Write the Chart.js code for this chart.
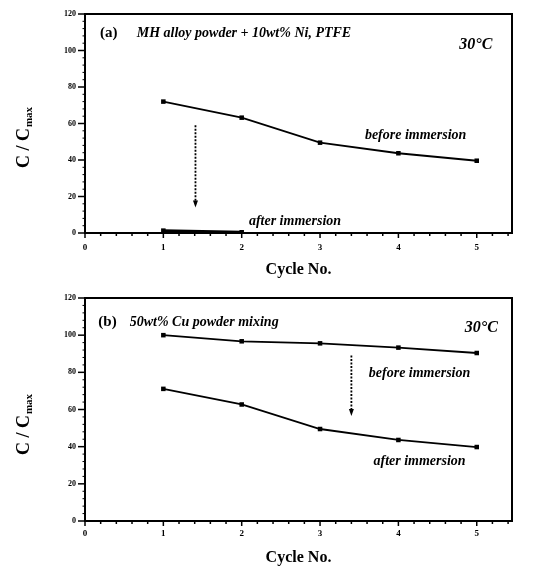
<!DOCTYPE html>
<html><head><meta charset="utf-8">
<script src="https://cdn.jsdelivr.net/npm/chart.js@4"></script>
<style>
html,body{margin:0;padding:0;background:#fff;}
#wrap{position:relative;width:539px;height:567px;}
.c{position:absolute;left:0;}
</style></head><body>
<div id="wrap">
<canvas id="ca" class="c" style="top:0" width="539" height="283"></canvas>
<canvas id="cb" class="c" style="top:283px" width="539" height="284"></canvas>
</div>
<script>
// ---- data ----
const cycles = [1, 2, 3, 4, 5];
const aBefore = [72, 63.2, 49.5, 43.7, 39.6];
const aAfterCycles = [1, 2];
const aAfter = [1.3, 0.4];
const bBefore = [100, 96.7, 95.6, 93.3, 90.4];
const bAfter = [71.1, 62.7, 49.5, 43.6, 39.8];
const xTickValues = [0, 1, 2, 3, 4, 5];
const yTickValues = [0, 20, 40, 60, 80, 100, 120];
const xTitle = 'Cycle No.';

const SERIF = '"Liberation Serif", "DejaVu Serif", serif';

function pts(xs, ys) { return xs.map((x, i) => ({ x: x, y: ys[i] })); }

const deco = {
  id: 'deco',
  afterDraw(chart) {
    const o = chart.options.plugins.deco;
    const ctx = chart.ctx, a = chart.chartArea;
    const xs = chart.scales.x, ys = chart.scales.y;
    ctx.save();
    // frame
    ctx.strokeStyle = '#000';
    ctx.lineWidth = 2;
    ctx.strokeRect(a.left, a.top, a.right - a.left, a.bottom - a.top);
    // minor ticks x
    ctx.lineWidth = 1.5;
    for (let v = 0; v <= 5.41; v += 0.2) {
      const px = xs.getPixelForValue(v);
      const major = Math.abs(v - Math.round(v)) < 1e-6;
      ctx.beginPath();
      ctx.moveTo(px, a.bottom);
      ctx.lineTo(px, a.bottom + (major ? 5 : 3));
      ctx.stroke();
    }
    // minor ticks y
    ctx.lineWidth = 1;
    for (let v = 0; v <= 120; v += 4) {
      const py = ys.getPixelForValue(v);
      const major = v % 20 === 0;
      ctx.lineWidth = major ? 1.5 : 1;
      ctx.beginPath();
      ctx.moveTo(a.left, py);
      ctx.lineTo(a.left - (major ? 7 : 2.5), py);
      ctx.stroke();
    }
    // y title C / Cmax
    ctx.translate(o.yTitleX, o.yTitleY);
    ctx.rotate(-Math.PI / 2);
    ctx.fillStyle = '#000';
    ctx.textBaseline = 'middle';
    const main = 'C / C';
    ctx.font = 'bold 18px ' + SERIF;
    const w1 = ctx.measureText(main).width;
    ctx.font = 'bold 11px ' + SERIF;
    const w2 = ctx.measureText('max').width;
    const start = -(w1 + w2) / 2;
    ctx.font = 'bold 18px ' + SERIF;
    ctx.textAlign = 'left';
    ctx.fillText(main, start, 0);
    ctx.font = 'bold 11px ' + SERIF;
    ctx.fillText('max', start + w1 + 1, 5);
    ctx.setTransform(1, 0, 0, 1, 0, 0);
    // texts
    o.texts.forEach(t => {
      ctx.font = t.font;
      ctx.textAlign = t.align;
      ctx.textBaseline = 'middle';
      ctx.fillStyle = '#000';
      ctx.fillText(t.text, xs.getPixelForValue(t.x), ys.getPixelForValue(t.y));
    });
    // arrow
    const ar = o.arrow;
    const ax = xs.getPixelForValue(ar.x), ay1 = ys.getPixelForValue(ar.y1), ay2 = ys.getPixelForValue(ar.y2);
    ctx.strokeStyle = '#000';
    ctx.fillStyle = '#000';
    ctx.lineWidth = 1.8;
    ctx.setLineDash([2, 1.5]);
    ctx.beginPath();
    ctx.moveTo(ax, ay1);
    ctx.lineTo(ax, ay2 - 6);
    ctx.stroke();
    ctx.setLineDash([]);
    ctx.beginPath();
    ctx.moveTo(ax - 2.5, ay2 - 7);
    ctx.lineTo(ax + 2.5, ay2 - 7);
    ctx.lineTo(ax, ay2);
    ctx.closePath();
    ctx.fill();
    ctx.restore();
  }
};

function makeOptions(xHeight, titlePadBottom, d) {
  return {
    responsive: false,
    animation: false,
    layout: { padding: { left: 0, right: 27, top: d.padTop, bottom: 0 } },
    plugins: { legend: { display: false }, tooltip: { enabled: false }, deco: d },
    scales: {
      x: {
        type: 'linear', min: 0, max: 5.45,
        afterBuildTicks(s) { s.ticks = xTickValues.map(v => ({ value: v })); },
        afterFit(s) { s.height = xHeight; },
        grid: { display: false, drawTicks: false },
        border: { display: false },
        ticks: { padding: d.xTickPad, color: '#000', font: { family: SERIF, size: 9, weight: 'bold' }, maxRotation: 0 },
        title: { display: true, text: xTitle, color: '#000', font: { family: SERIF, size: 16, weight: 'bold' }, padding: { top: 0, bottom: titlePadBottom } }
      },
      y: {
        type: 'linear', min: 0, max: 120,
        afterBuildTicks(s) { s.ticks = yTickValues.map(v => ({ value: v })); },
        afterFit(s) { s.width = 85; },
        grid: { display: false, drawTicks: false },
        border: { display: false },
        ticks: { padding: 9, color: '#000', font: { family: SERIF, size: 8, weight: 'bold' } }
      }
    }
  };
}

const lineStyle = {
  borderColor: '#000', backgroundColor: '#000', borderWidth: 1.8,
  pointStyle: 'rect', pointRadius: 3.2, pointBorderWidth: 0, tension: 0, fill: false
};

const ANN = 'italic bold 14px ' + SERIF;
const SUB = 'italic bold 14px ' + SERIF;

new Chart(document.getElementById('ca'), {
  type: 'line',
  plugins: [deco],
  data: {
    datasets: [
      Object.assign({ label: 'before immersion', data: pts(cycles, aBefore) }, lineStyle),
      Object.assign({ label: 'after immersion', data: pts(aAfterCycles, aAfter) }, lineStyle, { borderWidth: 2.8 })
    ]
  },
  options: makeOptions(50, 4, {
    padTop: 14, xTickPad: 9, yTitleX: 24, yTitleY: 138,
    texts: [
      { text: '(a)', x: 0.19, y: 109.6, align: 'left', font: 'bold 15px ' + SERIF },
      { text: 'MH alloy powder + 10wt% Ni, PTFE', x: 0.66, y: 109.6, align: 'left', font: SUB },
      { text: '30°C', x: 5.2, y: 103, align: 'right', font: 'italic bold 16px ' + SERIF },
      { text: 'before immersion', x: 4.22, y: 53.7, align: 'center', font: ANN },
      { text: 'after immersion', x: 2.68, y: 6.6, align: 'center', font: ANN }
    ],
    arrow: { x: 1.41, y1: 59, y2: 14 }
  })
});

new Chart(document.getElementById('cb'), {
  type: 'line',
  plugins: [deco],
  data: {
    datasets: [
      Object.assign({ label: 'before immersion', data: pts(cycles, bBefore) }, lineStyle),
      Object.assign({ label: 'after immersion', data: pts(cycles, bAfter) }, lineStyle)
    ]
  },
  options: makeOptions(46, 0, {
    padTop: 15, xTickPad: 7, yTitleX: 24, yTitleY: 142,
    texts: [
      { text: '(b)', x: 0.17, y: 107, align: 'left', font: 'bold 15px ' + SERIF },
      { text: '50wt% Cu powder mixing', x: 0.57, y: 107, align: 'left', font: SUB },
      { text: '30°C', x: 5.27, y: 103.9, align: 'right', font: 'italic bold 16px ' + SERIF },
      { text: 'before immersion', x: 4.27, y: 79.6, align: 'center', font: ANN },
      { text: 'after immersion', x: 4.27, y: 32.3, align: 'center', font: ANN }
    ],
    arrow: { x: 3.4, y1: 89, y2: 56.5 }
  })
});
</script>
</body></html>
